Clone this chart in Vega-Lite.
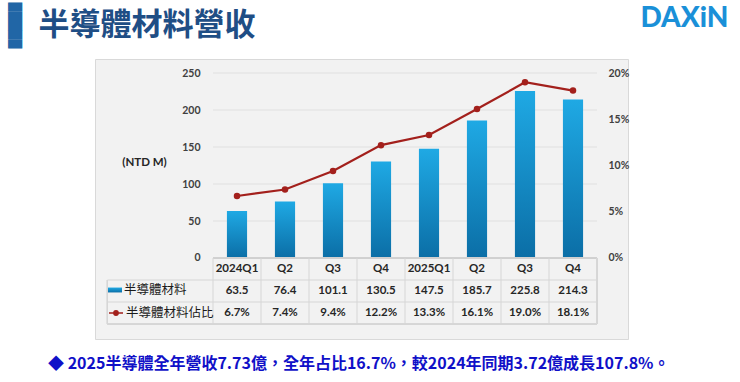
{
  "$schema": "https://vega.github.io/schema/vega-lite/v6.json",
  "autosize": "none",
  "padding": {"left": 95, "top": 59, "right": 112, "bottom": 43},
  "width": 533,
  "height": 280,
  "background": "#ffffff",
  "config": {
    "view": {"fill": "#f2f2f2", "stroke": "#d9d9d9", "strokeWidth": 1},
    "font": "Noto Sans CJK TC"
  },
  "data": {
    "values": [
      {"q": "2024Q1", "label": "2024Q1", "rev": 63.5, "pct": 0.067},
      {"q": "2024Q2", "label": "Q2", "rev": 76.4, "pct": 0.074},
      {"q": "2024Q3", "label": "Q3", "rev": 101.1, "pct": 0.094},
      {"q": "2024Q4", "label": "Q4", "rev": 130.5, "pct": 0.122},
      {"q": "2025Q1", "label": "2025Q1", "rev": 147.5, "pct": 0.133},
      {"q": "2025Q2", "label": "Q2", "rev": 185.7, "pct": 0.161},
      {"q": "2025Q3", "label": "Q3", "rev": 225.8, "pct": 0.19},
      {"q": "2025Q4", "label": "Q4", "rev": 214.3, "pct": 0.181}
    ]
  },
  "title": {
    "text": "◆ 2025半導體全年營收7.73億，全年占比16.7%，較2024年同期3.72億成長107.8%。",
    "orient": "bottom",
    "anchor": "start",
    "frame": "group",
    "offset": 17,
    "dx": -47,
    "font": "Noto Sans CJK TC",
    "fontSize": 16,
    "fontWeight": "bold",
    "color": "#1010c8"
  },
  "layer": [
    {
      "layer": [
        {
          "data": {"values": [{"tick": 50}, {"tick": 100}, {"tick": 150}, {"tick": 200}, {"tick": 250}]},
          "mark": {"type": "rule", "color": "#e0e0e0", "strokeWidth": 1},
          "encoding": {
            "x": {"datum": "2024Q1", "bandPosition": 0},
            "x2": {"datum": "2025Q4", "bandPosition": 1},
            "y": {
              "field": "tick",
              "type": "quantitative",
              "scale": {"domain": [-109.46, 268.92], "nice": false, "zero": false},
              "axis": {
                "orient": "left",
                "offset": -118,
                "values": [0, 50, 100, 150, 200, 250],
                "ticks": false,
                "domain": false,
                "grid": false,
                "labelPadding": 13,
                "labelFont": "Lato",
                "labelFontSize": 10.5,
                "labelFontWeight": "bold",
                "labelColor": "#404040",
                "title": "(NTD M)",
                "titleAngle": 0,
                "titleX": -69,
                "titleY": 103,
                "titleAlign": "center",
                "titleBaseline": "middle",
                "titleFont": "Lato",
                "titleFontSize": 11.5,
                "titleFontWeight": "bold",
                "titleColor": "#262626"
              }
            }
          }
        },
        {
          "mark": {
            "type": "bar",
            "width": {"band": 0.42},
            "strokeWidth": 0,
            "fill": {
              "gradient": "linear",
              "x1": 0, "y1": 0, "x2": 0, "y2": 1,
              "stops": [
                {"offset": 0, "color": "#1fa9e4"},
                {"offset": 1, "color": "#0b6ea6"}
              ]
            }
          },
          "encoding": {
            "x": {
              "field": "q",
              "type": "nominal",
              "sort": null,
              "scale": {
                "type": "band",
                "domain": ["2024Q1", "2024Q2", "2024Q3", "2024Q4", "2025Q1", "2025Q2", "2025Q3", "2025Q4"],
                "range": [118, 502],
                "paddingInner": 0,
                "paddingOuter": 0
              },
              "axis": {
                "orient": "bottom",
                "labels": false,
                "ticks": false,
                "domain": false,
                "grid": false,
                "title": "半導體材料營收",
                "titleX": -57,
                "titleY": -314,
                "titleAlign": "left",
                "titleBaseline": "middle",
                "titleAngle": 0,
                "titleFont": "Noto Sans CJK TC",
                "titleFontSize": 31,
                "titleFontWeight": "bold",
                "titleColor": "#1f4e85"
              }
            },
            "y": {
              "field": "rev",
              "type": "quantitative",
              "scale": {"domain": [-109.46, 268.92], "nice": false, "zero": false},
              "axis": {
                "orient": "left",
                "offset": -118,
                "values": [0, 50, 100, 150, 200, 250],
                "ticks": false,
                "domain": false,
                "grid": false,
                "labelPadding": 13,
                "labelFont": "Lato",
                "labelFontSize": 10.5,
                "labelFontWeight": "bold",
                "labelColor": "#404040",
                "title": "(NTD M)",
                "titleAngle": 0,
                "titleX": -69,
                "titleY": 103,
                "titleAlign": "center",
                "titleBaseline": "middle",
                "titleFont": "Lato",
                "titleFontSize": 11.5,
                "titleFontWeight": "bold",
                "titleColor": "#262626"
              }
            },
            "stroke": {
              "datum": "半導體材料",
              "scale": {"range": ["#1b9bd7"]},
              "legend": {
                "orient": "none",
                "legendX": 13,
                "legendY": 224,
                "title": null,
                "padding": 0,
                "symbolType": "M-1,-0.35H1V0.35H-1Z",
                "symbolSize": 196,
                "symbolStrokeWidth": 0,
                "symbolFillColor": "#1b9bd7",
                "labelOffset": 2,
                "labelFont": "Noto Sans CJK TC",
                "labelFontSize": 12.5,
                "labelColor": "#1a1a1a"
              }
            }
          }
        }
      ]
    },
    {
      "layer": [
        {
          "mark": {"type": "point", "filled": true, "size": 42, "opacity": 1},
          "encoding": {
            "x": {"field": "q", "type": "nominal", "sort": null},
            "y": {
              "field": "pct",
              "type": "quantitative",
              "scale": {"domain": [-0.08757, 0.21514], "nice": false, "zero": false},
              "axis": {
                "orient": "right",
                "offset": -31,
                "values": [0, 0.05, 0.1, 0.15, 0.2],
                "format": ".0%",
                "ticks": false,
                "domain": false,
                "grid": false,
                "labelPadding": 11,
                "labelFont": "Lato",
                "labelFontSize": 10.5,
                "labelFontWeight": "bold",
                "labelColor": "#404040",
                "title": "DAXiN",
                "titleAngle": 0,
                "titleX": 131,
                "titleY": -41,
                "titleAlign": "right",
                "titleBaseline": "middle",
                "titleFont": "Lato",
                "titleFontSize": 28,
                "titleFontWeight": 900,
                "titleColor": "#1a90d8"
              }
            },
            "color": {
              "datum": "半導體材料佔比",
              "scale": {"range": ["#a3201c"]},
              "legend": {
                "orient": "none",
                "legendX": 13,
                "legendY": 246,
                "title": null,
                "padding": 0,
                "symbolType": "M-1,0H1M0.3,0A0.3,0.3,0,1,1,-0.3,0A0.3,0.3,0,1,1,0.3,0Z",
                "symbolSize": 196,
                "symbolStrokeWidth": 1.6,
                "symbolStrokeColor": "#a3201c",
                "symbolFillColor": "#a3201c",
                "labelOffset": 2,
                "labelFont": "Noto Sans CJK TC",
                "labelFontSize": 12.5,
                "labelColor": "#1a1a1a"
              }
            }
          }
        },
        {
          "mark": {"type": "line", "strokeWidth": 2.2},
          "encoding": {
            "x": {"field": "q", "type": "nominal", "sort": null},
            "y": {"field": "pct", "type": "quantitative"},
            "color": {"datum": "半導體材料佔比"}
          }
        }
      ]
    },
    {
      "layer": [
        {
          "data": {"values": [{"row": "value"}, {"row": "share"}]},
          "mark": {"type": "rule", "color": "#d6d6d6", "strokeWidth": 1},
          "encoding": {
            "x": {"datum": "2024Q1", "bandPosition": -2.2},
            "x2": {"datum": "2025Q4", "bandPosition": 1},
            "y": {
              "field": "row",
              "type": "nominal",
              "bandPosition": 0,
              "scale": {"type": "band", "domain": ["header", "value", "share"], "range": [199, 265], "paddingInner": 0, "paddingOuter": 0},
              "axis": {
                "orient": "left",
                "labels": false,
                "ticks": false,
                "domain": false,
                "grid": false,
                "title": "█████",
                "titleAngle": 90,
                "titleX": -81,
                "titleY": -34,
                "titleAlign": "center",
                "titleBaseline": "middle",
                "titleFont": "DejaVu Sans",
                "titleFontSize": 12,
                "titleFontWeight": "normal",
                "titleColor": "#2166a6"
              }
            }
          }
        },
        {
          "mark": {"type": "rule", "color": "#d6d6d6", "strokeWidth": 1},
          "encoding": {
            "x": {"datum": "2024Q1", "bandPosition": -2.2},
            "x2": {"datum": "2025Q4", "bandPosition": 1},
            "y": {"datum": "share", "bandPosition": 1}
          }
        },
        {
          "mark": {"type": "rule", "color": "#d0d0d0", "strokeWidth": 1},
          "encoding": {
            "x": {"datum": "2024Q1", "bandPosition": 0},
            "x2": {"datum": "2025Q4", "bandPosition": 1},
            "y": {"datum": "header", "bandPosition": 0}
          }
        },
        {
          "mark": {"type": "rule", "color": "#d6d6d6", "strokeWidth": 1},
          "encoding": {
            "x": {"field": "q", "type": "nominal", "bandPosition": 0},
            "y": {"datum": "header", "bandPosition": 0},
            "y2": {"datum": "share", "bandPosition": 1}
          }
        },
        {
          "mark": {"type": "rule", "color": "#d6d6d6", "strokeWidth": 1},
          "encoding": {
            "x": {"datum": "2025Q4", "bandPosition": 1},
            "y": {"datum": "header", "bandPosition": 0},
            "y2": {"datum": "share", "bandPosition": 1}
          }
        },
        {
          "mark": {"type": "rule", "color": "#d6d6d6", "strokeWidth": 1},
          "encoding": {
            "x": {"datum": "2024Q1", "bandPosition": -2.2},
            "y": {"datum": "value", "bandPosition": 0},
            "y2": {"datum": "share", "bandPosition": 1}
          }
        },
        {
          "mark": {"type": "text", "font": "Lato", "fontSize": 11.5, "fontWeight": "bold", "color": "#262626"},
          "encoding": {
            "x": {"field": "q", "type": "nominal", "bandPosition": 0.5},
            "y": {"datum": "header", "bandPosition": 0.5},
            "text": {"field": "label"}
          }
        },
        {
          "mark": {"type": "text", "font": "Lato", "fontSize": 11.5, "fontWeight": "bold", "color": "#262626"},
          "encoding": {
            "x": {"field": "q", "type": "nominal", "bandPosition": 0.5},
            "y": {"datum": "value", "bandPosition": 0.5},
            "text": {"field": "rev", "format": ".1f"}
          }
        },
        {
          "mark": {"type": "text", "font": "Lato", "fontSize": 11.5, "fontWeight": "bold", "color": "#262626"},
          "encoding": {
            "x": {"field": "q", "type": "nominal", "bandPosition": 0.5},
            "y": {"datum": "share", "bandPosition": 0.5},
            "text": {"field": "pct", "format": ".1%"}
          }
        }
      ]
    }
  ],
  "resolve": {"scale": {"y": "independent"}}
}
